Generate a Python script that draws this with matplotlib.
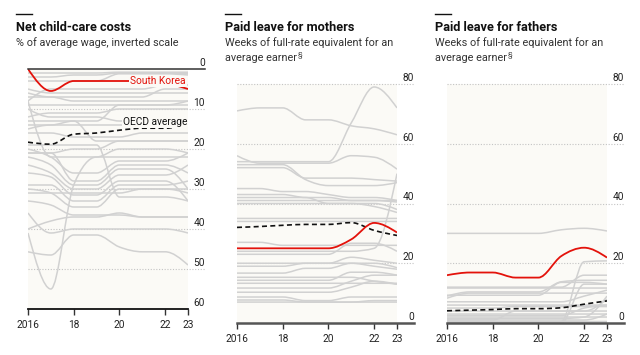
import numpy as np
import matplotlib
matplotlib.use("Agg")
import matplotlib.pyplot as plt
from matplotlib.path import Path
from matplotlib.patches import PathPatch
from matplotlib.lines import Line2D

plt.rcParams['font.family'] = ['Roboto', 'DejaVu Sans']

years = [2016, 2017, 2018, 2019, 2020, 2021, 2022, 2023]
xtick_years = [2016, 2018, 2020, 2022, 2023]
xtick_labels = ["2016", "18", "20", "22", "23"]

# ---- Panel 1: net child-care costs (% of average wage) ----
care_korea = [0, 5.5, 3, 3, 3, 3, 3.5, 5]
care_oecd = [18.3, 18.8, 16.3, 16, 15.3, 14.8, 14.8, 13.8]
care_others = [
    [1, 1, 1, 1, 0.8, 0.8, 0.8, 0.8],
    [2, 2, 1.5, 1.5, 1, 1, 1, 1.2],
    [3, 3, 3, 3, 1.2, 1.2, 1.2, 1.5],
    [5, 6, 6, 6, 6, 6, 6, 6],
    [6, 7, 7, 7, 7, 7, 5, 5],
    [7, 7, 8, 8, 8, 8, 8, 8],
    [8, 5, 5, 5, 5, 5, 4, 4],
    [9, 9, 9, 9, 9, 9, 9, 9],
    [10, 12, 12, 12, 13, 13, 13, 12],
    [12, 11, 11, 11, 10, 10, 10, 10],
    [13, 13, 13, 13, 9, 9, 9, 8],
    [15, 14, 14, 14, 14, 14, 14, 14],
    [16, 16, 17, 17, 17, 16, 16, 16],
    [21, 21, 20, 20, 18, 18, 18, 18],
    [8, 22, 22, 22, 20, 20, 20, 21],
    [20, 22, 26, 26, 23, 23, 23, 21],
    [21, 21, 28, 28, 24, 24, 24, 26],
    [22, 24, 29, 29, 25, 25, 25, 30],
    [24, 26, 30, 30, 26.5, 26.5, 26.5, 24],
    [26, 27, 31.5, 31.5, 28, 28, 28, 33],
    [29, 29, 33, 33, 29, 29, 29, 28],
    [30, 31, 34.5, 34.5, 30, 30, 30, 31],
    [33, 34, 36.5, 36.5, 36.5, 37, 37, 37],
    [40, 38, 37, 37, 36, 37, 37, 37],
    [41, 55, 29, 22, 22, 22, 22, 22],
    [45.7, 46.5, 41.5, 41.5, 44.5, 45.7, 45.7, 49],
    [36, 41, 40, 40, 40, 40, 40, 41],
    [31, 31, 31, 31, 31, 30, 30, 30],
    [19, 19, 19, 19, 32, 32, 32, 33],
    [14, 14, 13, 18, 18, 18, 18, 18],
]

# ---- Panel 2: paid leave for mothers (weeks) ----
mom_korea = [25, 25, 25, 25, 25, 28, 33.5, 30.3]
mom_oecd = [32, 32.3, 32.7, 33, 33, 33.6, 31, 29.3]
mom_others = [
    [71, 72, 72, 68, 68, 66, 65, 63],
    [54, 54, 54, 54, 54, 67, 79, 72],
    [56, 53.5, 53.5, 53.5, 53.5, 56, 55.5, 51.5],
    [52, 52, 52, 48.5, 48.5, 48.5, 48, 47.5],
    [53, 53, 53, 48, 46, 46, 46, 47],
    [45, 45, 44, 44, 43, 42, 42, 41],
    [43, 43, 43, 42, 42, 41, 41, 40.5],
    [41, 41, 41, 41, 41, 41, 41, 41],
    [42, 42, 42, 42, 40, 40, 40, 38],
    [40, 40, 40, 40, 40, 40, 39, 37],
    [35, 35, 35, 35, 35, 35, 35, 35],
    [34, 34, 34, 34, 34, 34, 34, 34],
    [24, 24, 24, 24, 24, 24, 25, 50],
    [27, 27, 26, 26, 26, 26, 26, 26],
    [23, 23, 23, 23, 23, 26.7, 26.7, 24],
    [20, 20, 20, 20, 20, 22, 21, 20],
    [19, 19, 19, 20, 20, 20, 19, 18],
    [16.7, 16.7, 16.7, 18.3, 18.3, 20, 20, 18.5],
    [15.3, 15.3, 15.3, 15.3, 15.3, 15.3, 14, 13],
    [14.3, 14.3, 14.3, 14.3, 14.3, 17, 17, 16],
    [13.3, 13.3, 13.3, 13.3, 13.3, 13.3, 13.3, 13.3],
    [11.7, 11.7, 11.7, 11.7, 11.7, 14, 16, 16],
    [10.3, 10.3, 10.3, 10.3, 10.3, 12, 14, 13],
    [8.7, 8.7, 8.7, 7.5, 7.5, 8.7, 8.7, 8.7],
    [7.7, 7.7, 7.7, 7, 7, 7, 7.5, 7.5],
    [7, 7, 7, 7, 7, 7, 7, 7],
]

# ---- Panel 3: paid leave for fathers (weeks) ----
dad_korea = [16, 16.9, 16.9, 15.2, 15.2, 22.4, 25.2, 21.9]
dad_oecd = [4.1, 4.3, 4.5, 4.8, 4.8, 5.1, 6.3, 7.4]
dad_others = [
    [30, 30, 30, 30, 30, 31.2, 31.7, 30.8],
    [0, 0, 0, 0, 0, 0.5, 20.5, 20.8],
    [12, 12, 12, 12, 12, 12, 16, 16],
    [11.7, 11.7, 11.7, 11.7, 11.7, 11.7, 11.7, 11.7],
    [9, 10.4, 10.4, 10.4, 10.4, 13.8, 14.3, 14.3],
    [9.3, 9.3, 9.3, 9.3, 9.3, 13.6, 13.6, 13],
    [8.3, 10, 10, 10, 10, 10, 10, 10],
    [7.1, 7.1, 7.1, 7.1, 7.1, 7.1, 9, 11],
    [6, 6, 6, 6, 6, 6, 6, 6],
    [5, 5, 5, 5.5, 5.5, 5.5, 5.5, 5.5],
    [4, 4, 4, 4, 4, 4, 4, 8],
    [2, 2, 2, 2, 2, 2, 2, 2],
    [1.5, 1.5, 1.5, 1.5, 1.5, 1.5, 2, 9],
    [1, 1, 1, 1, 1, 1, 1, 3],
    [0.5, 0.5, 0.5, 0.5, 0.5, 0.5, 0.5, 0.5],
    [0, 0, 0, 0, 0, 0, 0, 0],
    [2.5, 2.5, 2.5, 2.5, 2.5, 2.5, 5, 6],
    [0, 0, 0, 0, 0, 0, 13, 13],
    [3, 3, 3, 3, 3, 3, 3, 3],
    [1, 1, 1, 4, 4, 4, 4, 4],
]

RED = "#e3120b"
GREY = "#d1d1d1"
BG = "#fbfaf6"
W, H = 640, 355


def slope2(x, y, t):
    h = x[1] - x[0]
    return (3 * (y[1] - y[0]) / h - t) / 2


def monotone_path(x, y):
    x = np.asarray(x, float)
    y = np.asarray(y, float)
    n = len(x)
    h = np.diff(x)
    s = np.diff(y) / h
    m = np.zeros(n)
    for k in range(1, n - 1):
        p = (s[k - 1] * h[k] + s[k] * h[k - 1]) / (h[k - 1] + h[k])
        m[k] = (np.sign(s[k - 1]) + np.sign(s[k])) * min(abs(s[k - 1]), abs(s[k]), 0.5 * abs(p))
    m[0] = slope2(x[0:2], y[0:2], m[1])
    m[-1] = slope2(x[-2:], y[-2:], m[-2])
    verts = [(x[0], y[0])]
    codes = [Path.MOVETO]
    for k in range(n - 1):
        d = h[k] / 3
        verts += [(x[k] + d, y[k] + m[k] * d), (x[k + 1] - d, y[k + 1] - m[k + 1] * d), (x[k + 1], y[k + 1])]
        codes += [Path.CURVE4] * 3
    return Path(verts, codes)


def draw_line(ax, y, color, lw, ls='-', z=2):
    ax.add_patch(PathPatch(monotone_path(years, y), fill=False, edgecolor=color,
                           lw=lw, linestyle=ls, zorder=z, capstyle='butt'))


fig = plt.figure(figsize=(6.4, 3.55), dpi=100)
fig.patch.set_facecolor("white")


def fx(px):
    return px / W


def fy(py):
    return 1 - py / H


panels = [
    dict(left=28, top=69, bottom=309, ylim=(60, 0), ticks=[0, 10, 20, 30, 40, 50, 60],
         others=care_others, korea=care_korea, oecd=care_oecd),
    dict(left=237, top=84, bottom=323, ylim=(0, 80), ticks=[0, 20, 40, 60, 80],
         others=mom_others, korea=mom_korea, oecd=mom_oecd),
    dict(left=447, top=84, bottom=323, ylim=(0, 80), ticks=[0, 20, 40, 60, 80],
         others=dad_others, korea=dad_korea, oecd=dad_oecd),
]

axes = []
for i, p in enumerate(panels):
    ax = fig.add_axes([fx(p['left']), fy(p['bottom']), 160 / W, (p['bottom'] - p['top']) / H])
    ax.set_facecolor(BG)
    ax.set_xlim(2016, 2023)
    ax.set_ylim(*p['ylim'])
    for sp in ax.spines.values():
        sp.set_visible(False)
    ax.set_yticks([])
    ax.set_xticks(xtick_years)
    ax.set_xticklabels(xtick_labels)
    ax.tick_params(axis='x', length=4, width=1, color='#333333', pad=4,
                   labelsize=7.3, labelcolor='#222222')
    ext = 1 + 17 / 160
    trans = ax.get_yaxis_transform()
    baseline = 60 if i == 0 else 0
    for v in p['ticks']:
        if v == 0 and i == 0:
            ax.plot([0, ext], [v, v], transform=trans, color='#333333', lw=1.1,
                    clip_on=False, zorder=5)
        elif v != baseline:
            ax.plot([0, ext], [v, v], transform=trans, color='#c4c4c4', lw=0.8,
                    ls=(0, (1, 1.5)), clip_on=False, zorder=1)
        ax.annotate(str(v), xy=(ext, v), xycoords=trans, xytext=(0, 2.3),
                    textcoords='offset points', ha='right', va='baseline',
                    fontsize=7.3, color='#222222', annotation_clip=False)
    if i == 0:
        ax.plot([0, 1], [60, 60], transform=trans, color='#111111', lw=1.3,
                clip_on=False, zorder=6)
    else:
        ax.plot([0, ext], [0, 0], transform=trans, color='#555555', lw=1.8,
                clip_on=False, zorder=6)
    for s in p['others']:
        draw_line(ax, s, GREY, 1.1, z=2)
    draw_line(ax, p['oecd'], '#111111', 1.2, ls=(0, (3, 2)), z=4)
    draw_line(ax, p['korea'], RED, 1.3, z=4)
    axes.append(ax)

# labels in first panel
axes[0].text(2022.9, 3.1, "South Korea", color=RED, fontsize=7.3, ha='right', va='center',
             zorder=7, bbox=dict(facecolor=BG, edgecolor='none', pad=0.6))
axes[0].text(2022.97, 13.2, "OECD average", color='#111111', fontsize=7.3, ha='right',
             va='center', zorder=7, bbox=dict(facecolor=BG, edgecolor='none', pad=0.6))

# titles
titles = [
    (16, "Net child-care costs", ["% of average wage, inverted scale"]),
    (225, "Paid leave for mothers", ["Weeks of full-rate equivalent for an", "average earner"]),
    (435, "Paid leave for fathers", ["Weeks of full-rate equivalent for an", "average earner"]),
]
sup_texts = []
for x0, title, subs in titles:
    fig.add_artist(Line2D([fx(x0), fx(x0 + 16)], [fy(14), fy(14)], color='#111111', lw=1.0))
    fig.text(fx(x0), fy(31), title, fontsize=9.2, fontweight='bold', color='#111111',
             va='baseline', ha='left')
    for j, s in enumerate(subs):
        t = fig.text(fx(x0), fy(46 + 15 * j), s, fontsize=7.8, color='#333333',
                     va='baseline', ha='left')
        if j == 1:
            sup_texts.append(t)

fig.canvas.draw()
renderer = fig.canvas.get_renderer()
for t in sup_texts:
    bb = t.get_window_extent(renderer)
    x1 = bb.x1 / fig.bbox.width
    fig.text(x1 + 0.5 / W, fy(46 + 15) + 4.5 / H, "§", fontsize=5.5, color='#333333',
             va='baseline', ha='left')

fig.savefig("out.png", dpi=100, facecolor='white')
